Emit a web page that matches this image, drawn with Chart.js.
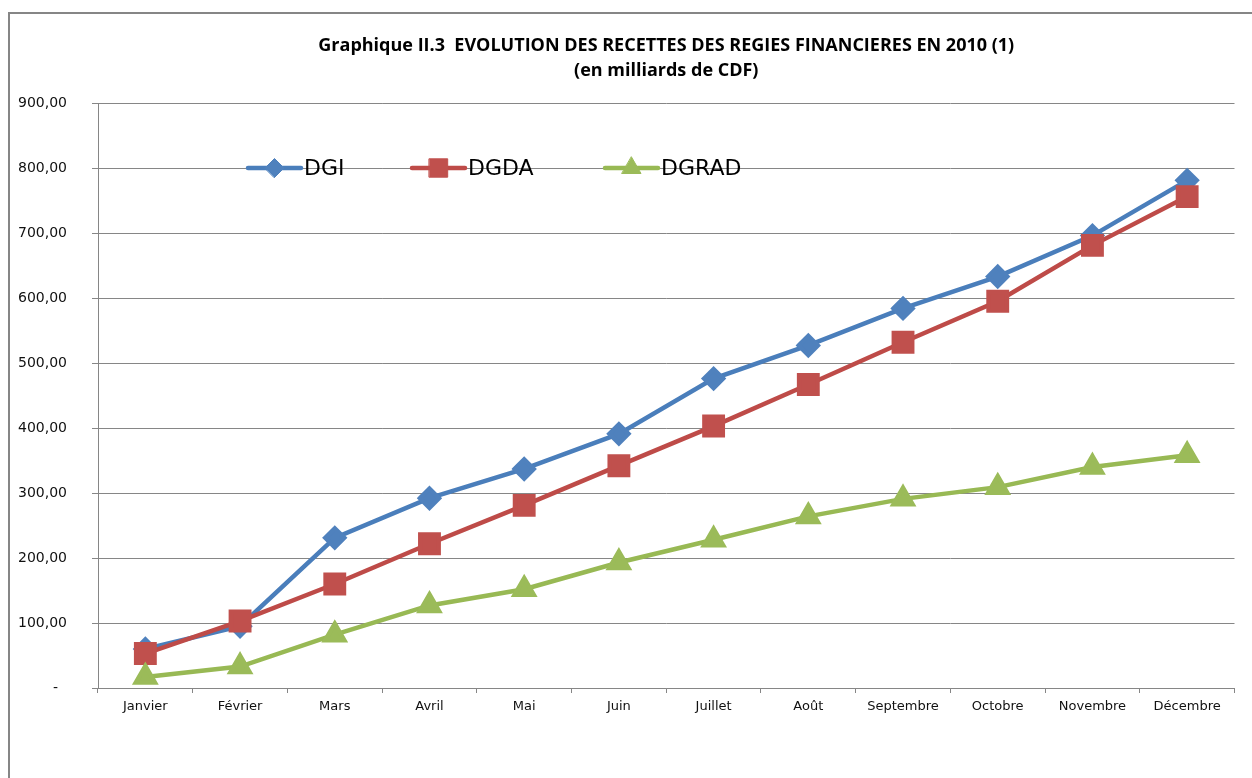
<!DOCTYPE html>
<html>
<head>
<meta charset="utf-8">
<script src="https://cdn.jsdelivr.net/npm/chart.js@4"></script>
<style>
  html, body { margin: 0; padding: 0; background: #fff; }
  #wrap { position: relative; width: 1252px; height: 778px; }
</style>
</head>
<body>
<div id="wrap"><canvas id="recettes" width="1252" height="778"></canvas></div>
<script>
// mois de l'année 2010
const months = ['Janvier', 'Février', 'Mars', 'Avril', 'Mai', 'Juin', 'Juillet', 'Août', 'Septembre', 'Octobre', 'Novembre', 'Décembre'];

// recettes cumulées en milliards de CDF
const dgi = [60, 95, 231, 292, 337, 391, 476, 527, 584, 633, 696, 781];
const dgda = [53, 103, 160, 222, 281, 342, 403, 467, 532, 595, 681, 756];
const dgrad = [17, 33, 82, 127, 152, 193, 228, 264, 291, 309, 340, 358];

const seriesNames = ['DGI', 'DGDA', 'DGRAD'];
const yTicks = [0, 100, 200, 300, 400, 500, 600, 700, 800, 900];

const GRID = '#868686';
const FONT = 'DejaVu Sans';

// cadre gris autour du graphique
const framePlugin = {
  id: 'frame',
  beforeDraw(chart) {
    const ctx = chart.ctx;
    ctx.save();
    ctx.strokeStyle = GRID;
    ctx.lineWidth = 2;
    ctx.strokeRect(9, 13, 1300, 800);
    ctx.restore();
  }
};

// légende posée dans la zone du graphique, comme dans Excel
const legendPlugin = {
  id: 'inlineLegend',
  afterDatasetsDraw(chart) {
    const ctx = chart.ctx;
    const y = chart.scales.y.getPixelForValue(800);
    const starts = [248, 412, 605];
    ctx.save();
    chart.data.datasets.forEach((ds, i) => {
      const x0 = starts[i];
      ctx.strokeStyle = ds.borderColor;
      ctx.lineWidth = 4.5;
      ctx.lineCap = 'round';
      ctx.beginPath();
      ctx.moveTo(x0, y);
      ctx.lineTo(x0 + 53, y);
      ctx.stroke();
      ctx.fillStyle = ds.pointBackgroundColor;
      ctx.strokeStyle = ds.pointBackgroundColor;
      ctx.lineWidth = 1;
      Chart.helpers.drawPoint(ctx, {
        pointStyle: ds.pointStyle,
        radius: ds.pointRadius,
        borderWidth: 1
      }, x0 + 26.5, y);
      ctx.fillStyle = '#000';
      ctx.font = '22px ' + FONT;
      ctx.textBaseline = 'middle';
      ctx.textAlign = 'left';
      ctx.fillText(ds.label, x0 + 56, y + 1);
    });
    ctx.restore();
  }
};

const ctx = document.getElementById('recettes').getContext('2d');
new Chart(ctx, {
  type: 'line',
  data: {
    labels: months,
    datasets: [
      {
        label: seriesNames[0],
        data: dgi,
        borderColor: '#4a7ebb',
        backgroundColor: '#4a7ebb',
        pointBackgroundColor: '#4f81bd',
        pointBorderColor: '#4f81bd',
        pointStyle: 'rectRot',
        pointRadius: 9.5,
        borderWidth: 4.5,
        order: 3
      },
      {
        label: seriesNames[1],
        data: dgda,
        borderColor: '#be4b48',
        backgroundColor: '#be4b48',
        pointBackgroundColor: '#c0504d',
        pointBorderColor: '#c0504d',
        pointStyle: 'rect',
        pointRadius: 13,
        borderWidth: 4.5,
        order: 2
      },
      {
        label: seriesNames[2],
        data: dgrad,
        borderColor: '#98b954',
        backgroundColor: '#98b954',
        pointBackgroundColor: '#9bbb59',
        pointBorderColor: '#9bbb59',
        pointStyle: 'triangle',
        pointRadius: 11,
        borderWidth: 4.5,
        order: 1
      }
    ]
  },
  options: {
    responsive: false,
    animation: false,
    layout: { padding: { left: 0, right: 14, top: 0, bottom: 0 } },
    plugins: {
      legend: { display: false },
      tooltip: { enabled: false },
      title: {
        display: true,
        fullSize: false,
        text: ['Graphique II.3  EVOLUTION DES RECETTES DES REGIES FINANCIERES EN 2010 (1)', '(en milliards de CDF)'],
        color: '#000',
        font: { family: 'Open Sans', size: 18, weight: 'bold', lineHeight: 25 / 18 },
        padding: { top: 33, bottom: 20 }
      }
    },
    scales: {
      x: {
        offset: true,
        grid: {
          offset: true,
          drawOnChartArea: false,
          color: GRID,
          tickLength: 5
        },
        border: { color: GRID, width: 1 },
        ticks: {
          color: '#111',
          font: { family: FONT, size: 13 },
          padding: 6,
          maxRotation: 0,
          autoSkip: false
        },
        afterFit(scale) { scale.height = 90; }
      },
      y: {
        min: 0,
        max: 900,
        afterBuildTicks(scale) { scale.ticks = yTicks.map(v => ({ value: v })); },
        grid: { color: GRID, lineWidth: 1, tickLength: 6 },
        border: { color: GRID, width: 1 },
        ticks: {
          color: '#111',
          font: { family: FONT, size: 14 },
          padding: 25,
          callback: v => v === 0 ? '-  ' : v.toFixed(2).replace('.', ',')
        },
        afterFit(scale) { scale.width = 98; }
      }
    }
  },
  plugins: [framePlugin, legendPlugin]
});
</script>
</body>
</html>
